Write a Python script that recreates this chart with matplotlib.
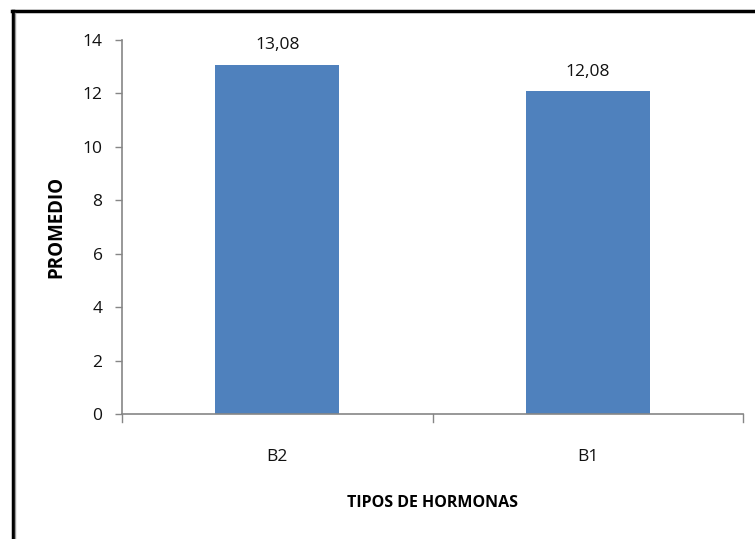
import matplotlib
matplotlib.use("Agg")
from matplotlib import pyplot as plt
from matplotlib.lines import Line2D

# data
categorias = ["B2", "B1"]
promedios = [13.08, 12.08]
etiquetas = ["13,08", "12,08"]
yticks = [0, 2, 4, 6, 8, 10, 12, 14]

plt.rcParams['font.family'] = ['Open Sans', 'DejaVu Sans']

fig = plt.figure(figsize=(7.55, 5.39), dpi=100)
ax = fig.add_axes([122 / 755, 125 / 539, 621 / 755, 374 / 539])

x = range(len(categorias))
bars = ax.bar(x, promedios, width=0.4, color="#4F81BD", zorder=2)

for b, lab in zip(bars, etiquetas):
  ax.annotate(lab, (b.get_x() + b.get_width() / 2, b.get_height()),
              xytext=(0, 8), textcoords="offset points",
              ha="center", va="bottom", fontsize=12.5, color="#111111")

ax.set_xlim(-0.5, len(categorias) - 0.5)
ax.set_ylim(0, 14)
ax.set_yticks(yticks)
ax.set_yticklabels([str(v) for v in yticks])
ax.set_xticks(list(x))
ax.set_xticklabels(categorias)
ax.tick_params(axis="x", length=0, pad=25, labelsize=12.5, colors="#111111")
ax.tick_params(axis="y", length=5, width=1, color="#868686", pad=9,
               labelsize=12.5, labelcolor="#111111")

# category boundary ticks below the x axis
for xb in [-0.5, 0.5, 1.5]:
  ax.plot([xb, xb], [0, -0.3], color="#868686", lw=1, clip_on=False)

for s in ["top", "right"]:
  ax.spines[s].set_visible(False)
for s in ["left", "bottom"]:
  ax.spines[s].set_color("#868686")
  ax.spines[s].set_linewidth(1.2)

ax.set_ylabel("PROMEDIO", fontsize=13.5, fontweight="bold", labelpad=12)
ax.set_xlabel("TIPOS DE HORMONAS", fontsize=11.5, fontweight="bold", labelpad=22)

# frame around the chart (only left and top visible in the picture)
fig.add_artist(Line2D([13 / 755, 13 / 755], [0, 1 - 11 / 539], color="black", lw=2.5))
fig.add_artist(Line2D([12 / 755, 1], [1 - 11 / 539, 1 - 11 / 539], color="black", lw=2.5))
fig.add_artist(Line2D([15 / 755, 15 / 755], [0, 1 - 13 / 539], color="#999999", lw=1))

fig.savefig("out.png", dpi=100)
